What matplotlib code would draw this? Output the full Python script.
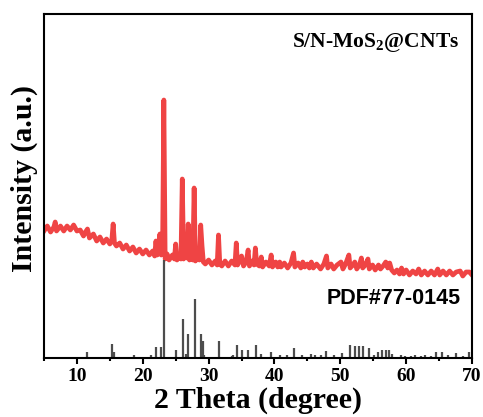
import numpy as np
import matplotlib
matplotlib.use("Agg")
import matplotlib.pyplot as plt
from matplotlib.ticker import MultipleLocator

# measured XRD pattern of S/N-MoS2@CNTs (2theta in degree, intensity in a.u.)
red_theta = [
    5.0, 5.5, 6.0, 6.5, 6.7, 6.9, 7.5, 8.0, 8.5, 9.0, 9.5, 10.0, 10.5, 11.0, 11.3, 11.6, 11.9,
    12.5, 13.0, 13.5, 14.0, 14.5, 15.0, 15.3, 15.5, 15.7, 16.0, 16.5, 17.0, 17.5, 18.0, 18.5,
    19.0, 19.5, 20.0, 20.5, 21.0, 21.5, 21.8, 22.0, 22.2, 22.4, 22.6, 22.8, 23.0, 23.2, 23.4,
    23.7, 24.0, 24.5, 24.8, 25.0, 25.2, 25.5, 25.8, 26.0, 26.2, 26.5, 26.7, 26.9, 27.1, 27.4,
    27.6, 27.8, 28.0, 28.3, 28.6, 28.8, 29.0, 29.2, 29.5, 30.0, 30.5, 31.0, 31.3, 31.5, 31.7,
    32.0, 32.5, 33.0, 33.5, 34.0, 34.2, 34.4, 34.8, 35.0, 35.3, 35.7, 36.0, 36.2, 36.6, 36.9,
    37.1, 37.3, 37.7, 38.0, 38.2, 38.7, 39.2, 39.5, 39.7, 40.2, 40.5, 40.8, 41.0, 41.5, 42.0,
    42.5, 42.9, 43.1, 43.6, 44.0, 44.3, 44.6, 45.0, 45.3, 45.6, 45.9, 46.4, 47.0, 47.5, 47.9,
    48.1, 48.6, 49.0, 49.5, 50.1, 50.4, 50.8, 51.3, 51.5, 51.9, 52.2, 52.5, 52.9, 53.2, 53.4,
    53.8, 54.2, 54.4, 54.9, 55.3, 55.8, 56.1, 56.5, 56.9, 57.2, 57.5, 57.8, 58.2, 58.6, 59.0,
    59.3, 59.6, 60.0, 60.5, 61.0, 61.5, 61.9, 62.3, 62.8, 63.3, 63.8, 64.3, 64.8, 65.1, 65.6,
    66.1, 66.6, 67.1, 67.6, 68.2, 68.6, 69.1, 69.6, 70.0,
]
red_int = [
    127, 132, 126, 131, 136, 127, 132, 127, 132, 128, 133, 127, 128, 122, 126, 129, 120,
    124, 117, 121, 115, 119, 114, 118, 134, 115, 112, 115, 109, 113, 107, 111,
    105, 109, 104, 108, 103, 107, 102, 117, 103, 107, 124, 103, 104, 258, 99,
    104, 98, 103, 99, 114, 98, 103, 99, 179, 99, 104, 100, 134, 98, 103,
    98, 170, 97, 102, 98, 133, 112, 96, 94, 98, 93, 97, 93, 123, 94,
    92, 97, 92, 97, 93, 115, 93, 98, 102, 92, 96, 108, 92, 97, 93,
    110, 94, 92, 101, 91, 96, 92, 103, 91, 96, 91, 96, 91, 95, 90,
    95, 105, 91, 95, 90, 96, 91, 94, 90, 96, 90, 94, 89, 94, 102,
    90, 94, 89, 93, 96, 89, 94, 103, 90, 93, 96, 89, 93, 100, 90,
    93, 99, 89, 93, 88, 93, 89, 92, 96, 90, 95, 88, 85, 88, 84,
    90, 84, 88, 83, 87, 84, 89, 83, 87, 83, 87, 83, 89, 83, 87,
    83, 87, 83, 86, 87, 82, 86, 86, 83,
]

# standard card PDF#77-0145 (stick pattern)
pdf_theta = [
    11.6, 15.4, 15.7, 18.6, 21.3, 22.0, 22.8, 23.2, 25.0, 26.05, 26.5, 26.9, 27.9, 28.8,
    29.1, 29.3, 31.6, 33.5, 33.7, 34.3, 35.0, 36.0, 37.2, 38.0, 39.4, 40.8, 41.9, 42.9,
    44.2, 45.5, 46.2, 47.0, 47.9, 49.0, 50.2, 51.4, 52.2, 52.9, 53.5, 54.3, 55.1, 55.8,
    56.4, 56.9, 57.4, 57.9, 59.2, 59.9, 60.7, 61.4, 62.2, 62.9, 63.7, 64.5, 65.4, 66.3,
    67.6, 68.6, 69.6,
]
pdf_int = [
    6, 14, 6, 3, 3, 11, 11, 98, 8, 39, 4, 24, 59, 24,
    17, 3, 17, 2, 3, 13, 8, 8, 13, 4, 6, 3, 3, 10,
    3, 4, 3, 3, 7, 3, 5, 13, 12, 12, 12, 10, 3, 6,
    8, 8, 8, 4, 3, 2, 2, 3, 2, 3, 2, 6, 6, 3,
    5, 2, 6,
]

x_ticks = [10, 20, 30, 40, 50, 60, 70]

plt.rcParams['font.family'] = ['Liberation Serif', 'DejaVu Serif']
plt.rcParams['mathtext.fontset'] = 'custom'
plt.rcParams['mathtext.rm'] = 'Liberation Serif:bold'
plt.rcParams['mathtext.bf'] = 'Liberation Serif:bold'

fig = plt.figure(figsize=(4.83, 4.17), dpi=100)
ax = fig.add_axes([44 / 483, 59 / 417, 428 / 483, 344 / 417])

ax.plot(red_theta, red_int, color='#EF4444', linewidth=3.4, solid_joinstyle='round')
ax.vlines(pdf_theta, 0, pdf_int, color='#4D4D4D', linewidth=1.6)

ax.set_xlim(5, 70)
ax.set_ylim(0, 344)
ax.set_xticks(x_ticks)
ax.xaxis.set_minor_locator(MultipleLocator(5))
ax.set_yticks([])

ax.tick_params(axis='x', which='major', direction='out', length=4.5, width=1.5,
               labelsize=14, pad=3)
ax.tick_params(axis='x', which='minor', direction='out', length=2.5, width=1.5)
for lbl in ax.get_xticklabels():
    lbl.set_fontweight('bold')

for spine in ax.spines.values():
    spine.set_linewidth(1.5)

ax.text(0.9696, 0.905, r'S/N-MoS$_2$@CNTs', transform=ax.transAxes,
        ha='right', va='baseline', fontsize=15.5, fontweight='bold')
ax.text(0.974, 0.156, 'PDF#77-0145', transform=ax.transAxes,
        ha='right', va='baseline', fontsize=15.5, fontweight='bold',
        family=['Liberation Sans', 'DejaVu Sans'])

fig.text(258 / 483, 1 - 408 / 417, '2 Theta (degree)', ha='center', va='baseline',
         fontsize=21.5, fontweight='bold')
fig.text(24 / 483, 1 - 179 / 417, 'Intensity (a.u.)', ha='center', va='center',
         rotation=90, fontsize=21.5, fontweight='bold')

fig.savefig('out.png', dpi=100)
